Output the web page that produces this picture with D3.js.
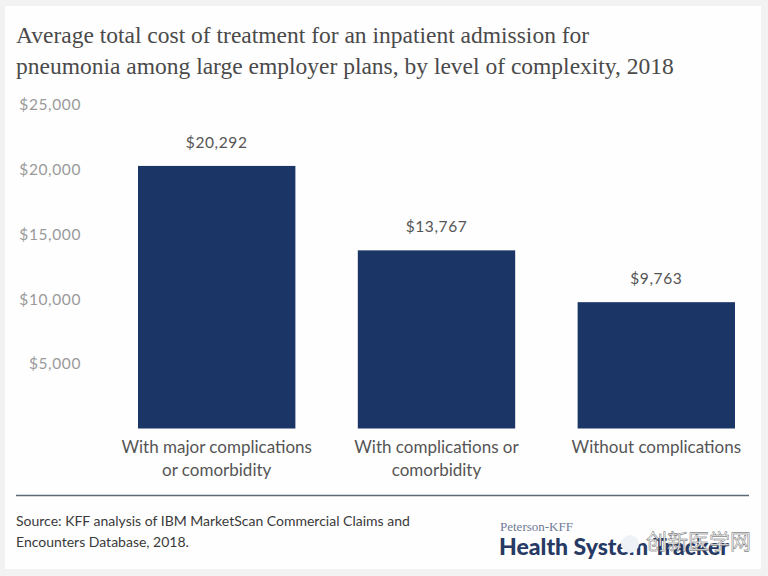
<!DOCTYPE html>
<html><head><meta charset="utf-8">
<script src="https://cdnjs.cloudflare.com/ajax/libs/d3/7.8.5/d3.min.js"></script>
<style>html,body{margin:0;padding:0;background:#fff}svg{display:block}</style>
</head><body><svg id="c" width="768" height="576"></svg>
<script>
const titleLines=["Average total cost of treatment for an inpatient admission for","pneumonia among large employer plans, by level of complexity, 2018"];
const categories=["With major complications","With complications or","Without complications"];
const categoryLine2=["or comorbidity","comorbidity",""];
const values=[20292,13767,9763];
const tickValues=[5000,10000,15000,20000,25000];
const sourceLines=["Source: KFF analysis of IBM MarketScan Commercial Claims and","Encounters Database, 2018."];
const logoLines=["Peterson-KFF","Health System Tracker"];
const watermark="创新医学网";

const svg=d3.select("#c");
const fmt=d3.format("$,");
const sans="Lato, 'Open Sans', sans-serif";
const serif="'Liberation Serif', serif";
const x=d3.scaleBand().domain(categories).range([138,735]).paddingInner(0.284);
const y=d3.scaleLinear().domain([0,25000]).range([428.5,105]);

svg.append("rect").attr("width",768).attr("height",576).attr("fill","#f2f2f2");
svg.append("rect").attr("x",5).attr("y",6).attr("width",756).attr("height",563).attr("fill","#fefefe");

svg.selectAll(".title").data(titleLines).join("text").attr("class","title")
 .attr("x",16).attr("y",(d,i)=>43+i*31).attr("font-family",serif).attr("font-size",23.5)
 .attr("fill","#4a4a4a").text(d=>d);

const axis=d3.axisLeft(y).tickValues(tickValues).tickFormat(fmt).tickSize(0).tickPadding(0);
const ax=svg.append("g").attr("transform","translate(81,0)").call(axis);
ax.select(".domain").remove();
ax.selectAll("text").attr("font-family",sans).attr("font-size",15.5).attr("fill","#9a9a9a").attr("letter-spacing",0.6);

svg.selectAll(".bar").data(values).join("rect").attr("class","bar")
 .attr("x",(d,i)=>x(categories[i])).attr("width",x.bandwidth())
 .attr("y",d=>y(d)).attr("height",d=>y(0)-y(d)).attr("fill","#1c3567");

svg.selectAll(".val").data(values).join("text").attr("class","val")
 .attr("x",(d,i)=>x(categories[i])+x.bandwidth()/2).attr("y",d=>y(d)-18)
 .attr("text-anchor","middle").attr("font-family",sans).attr("font-size",15.5)
 .attr("letter-spacing",0.6).attr("fill","#555").text(fmt);

const xc=[216.5,436,656];
categories.forEach((c,i)=>{
 const cx=x(c)+x.bandwidth()/2;
 svg.append("text").attr("x",cx).attr("y",453).attr("text-anchor","middle").attr("font-family",sans)
  .attr("font-size",17).attr("fill","#555").text(c);
 if(categoryLine2[i]) svg.append("text").attr("x",cx).attr("y",476).attr("text-anchor","middle").attr("font-family",sans)
  .attr("font-size",17).attr("fill","#555").text(categoryLine2[i]);
});

svg.append("line").attr("x1",16).attr("x2",749).attr("y1",495.5).attr("y2",495.5).attr("stroke","#5b6b78").attr("stroke-width",1.5);

svg.selectAll(".src").data(sourceLines).join("text").attr("class","src")
 .attr("x",16).attr("y",(d,i)=>526+i*21).attr("font-family",sans).attr("font-size",14)
 .attr("fill","#3a3a3a").text(d=>d);

svg.append("text").attr("x",500).attr("y",531).attr("font-family",serif).attr("font-size",13).attr("fill","#6f7a96").text(logoLines[0]);
svg.append("text").attr("x",499).attr("y",555).attr("font-family",sans).attr("font-weight",900).attr("font-size",23).attr("fill","#263a64").text(logoLines[1]);
svg.append("text").attr("x",646).attr("y",549).attr("font-family","'Noto Sans CJK SC'").attr("font-size",21).attr("fill","#f4f4f4").attr("stroke","#555").attr("stroke-width",0.4).text(watermark);
svg.append("circle").attr("cx",630).attr("cy",544).attr("r",9).attr("fill","#eef1f6");
</script></body></html>
